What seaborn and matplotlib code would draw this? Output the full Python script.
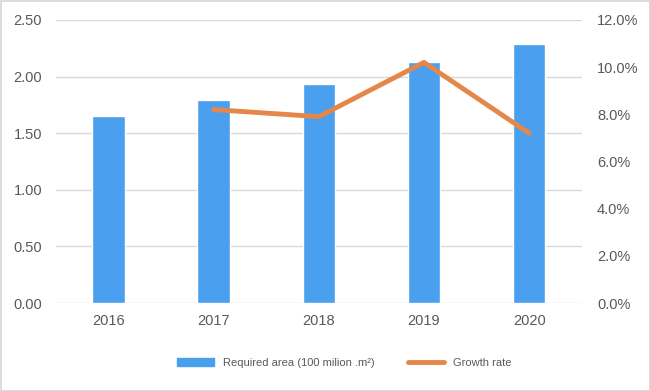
import matplotlib.pyplot as plt
import matplotlib.ticker as mtick
from matplotlib.lines import Line2D
from matplotlib.patches import Patch
import numpy as np
import seaborn as sns

years = ["2016", "2017", "2018", "2019", "2020"]
area = [1.65, 1.79, 1.93, 2.13, 2.29]
growth_years = ["2017", "2018", "2019", "2020"]
growth = [8.2, 7.9, 10.2, 7.2]

bar_color = "#4A9FEE"
line_color = "#E4874A"
text_color = "#595959"

sns.set_style("white")
plt.rcParams["font.family"] = ["Liberation Sans", "DejaVu Sans"]

fig = plt.figure(figsize=(6.5, 3.91), dpi=100, linewidth=2, edgecolor="#dcdcdc")
ax = fig.add_axes([0.086, 0.225, 0.809, 0.724])

sns.barplot(x=years, y=area, color=bar_color, width=0.31, saturation=1, ax=ax)
ax.set_ylim(0, 2.5)
ax.set_yticks(np.arange(0, 2.51, 0.5))
ax.yaxis.set_major_formatter(mtick.FormatStrFormatter("%.2f"))
ax.grid(axis="y", color="#d9d9d9", linewidth=1)
ax.set_axisbelow(True)
for s in ax.spines.values():
    s.set_visible(False)
ax.tick_params(length=0, labelsize=10.5, colors=text_color, pad=8)
ax.tick_params(axis="y", pad=10)

ax2 = ax.twinx()
gx = [years.index(y) for y in growth_years]
sns.lineplot(x=gx, y=growth, color=line_color, linewidth=3.5, ax=ax2)
ax2.set_ylim(0, 12)
ax2.set_yticks(np.arange(0, 12.1, 2))
ax2.yaxis.set_major_formatter(mtick.FormatStrFormatter("%.1f%%"))
for s in ax2.spines.values():
    s.set_visible(False)
ax2.tick_params(length=0, labelsize=10.5, colors=text_color, pad=11)
ax.set_xlim(-0.5, 4.5)

handles = [Patch(color=bar_color), Line2D([], [], color=line_color, linewidth=3.5)]
labels = ["Required area (100 milion .m²)", "Growth rate"]
fig.legend(handles, labels, loc="center", bbox_to_anchor=(0.53, 0.072), ncol=2,
           frameon=False, fontsize=8, handlelength=3.3, handleheight=0.8,
           columnspacing=3, labelcolor=text_color)

fig.savefig("out.png", dpi=100)
